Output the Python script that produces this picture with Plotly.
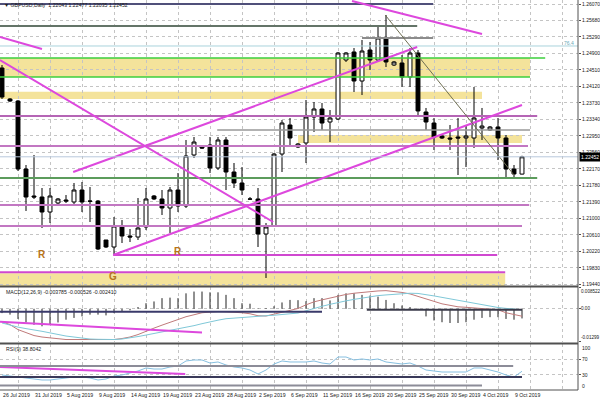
import plotly.graph_objects as go

# ---------------- data ----------------
tick_labels = ["26 Jul 2019", "31 Jul 2019", "5 Aug 2019", "9 Aug 2019", "14 Aug 2019",
               "19 Aug 2019", "23 Aug 2019", "28 Aug 2019", "2 Sep 2019", "6 Sep 2019",
               "11 Sep 2019", "16 Sep 2019", "20 Sep 2019", "25 Sep 2019", "30 Sep 2019",
               "4 Oct 2019", "9 Oct 2019"]
tick_bars = [0, 4, 8, 12, 16, 20, 24, 28, 32, 36, 40, 44, 48, 52, 56, 60, 64]

opens = [1.24555, 1.23821, 1.23773, 1.22163, 1.21524, 1.21500, 1.21145, 1.21358, 1.21429, 1.21382,
         1.21666, 1.21405, 1.21405, 1.20482, 1.20316, 1.20813, 1.20577, 1.20553, 1.20790, 1.21524,
         1.21453, 1.21240, 1.21666, 1.21287, 1.22495, 1.22684, 1.22731, 1.22187, 1.22850, 1.22092,
         1.21832, 1.21453, 1.21453, 1.20624, 1.20813, 1.22518, 1.23205, 1.22684, 1.22779, 1.23394,
         1.23584, 1.23276, 1.23347, 1.24744, 1.24934, 1.24247, 1.24981, 1.24744, 1.25265, 1.24626,
         1.24673, 1.24342, 1.24910, 1.23513, 1.23252, 1.22945, 1.22897, 1.22921, 1.22897, 1.22897,
         1.23134, 1.23087, 1.23158, 1.22897, 1.22163, 1.22043]
highs = [1.24626, 1.23844, 1.23797, 1.22258, 1.22495, 1.21713, 1.21713, 1.21476, 1.21547, 1.21832,
         1.21855, 1.21737, 1.21429, 1.20482, 1.21026, 1.20955, 1.20742, 1.21476, 1.21713, 1.21547,
         1.21666, 1.21737, 1.22068, 1.22850, 1.22921, 1.22708, 1.22921, 1.22921, 1.22921, 1.22305,
         1.22210, 1.21500, 1.21713, 1.20884, 1.22542, 1.23323, 1.23371, 1.22779, 1.23797, 1.23750,
         1.23726, 1.23560, 1.24934, 1.24934, 1.25028, 1.25218, 1.25170, 1.25526, 1.25810, 1.24721,
         1.24863, 1.25028, 1.24981, 1.23608, 1.23371, 1.22968, 1.23205, 1.23371, 1.23205, 1.24105,
         1.23608, 1.23181, 1.23371, 1.22968, 1.22258, 1.22477]
lows = [1.23821, 1.23750, 1.22116, 1.21169, 1.21453, 1.20766, 1.20884, 1.21334, 1.21358, 1.21311,
        1.21145, 1.20908, 1.20245, 1.20292, 1.20127, 1.20411, 1.20434, 1.20482, 1.20719, 1.21429,
        1.21074, 1.20648, 1.21145, 1.21240, 1.22424, 1.22637, 1.22068, 1.22139, 1.21666, 1.21713,
        1.21547, 1.21429, 1.20316, 1.19582, 1.20790, 1.22092, 1.22731, 1.22660, 1.22305, 1.23039,
        1.23087, 1.22802, 1.23323, 1.24697, 1.23986, 1.23915, 1.24507, 1.24697, 1.24578, 1.24602,
        1.24105, 1.24105, 1.23442, 1.23087, 1.22613, 1.22873, 1.22613, 1.22021, 1.22210, 1.22660,
        1.22850, 1.23063, 1.22376, 1.21950, 1.21950, 1.22035]
closes = [1.23868, 1.23773, 1.22163, 1.21500, 1.21500, 1.21145, 1.21524, 1.21453, 1.21405, 1.21666,
          1.21382, 1.21400, 1.20269, 1.20316, 1.20813, 1.20577, 1.20553, 1.20766, 1.21453, 1.21453,
          1.21240, 1.21666, 1.21287, 1.22471, 1.22802, 1.22660, 1.22187, 1.22850, 1.22092, 1.21832,
          1.21666, 1.21450, 1.20624, 1.20790, 1.22518, 1.23252, 1.22897, 1.22755, 1.23394, 1.23584,
          1.23252, 1.23371, 1.24910, 1.24910, 1.24247, 1.24957, 1.24744, 1.25265, 1.24697, 1.24697,
          1.24342, 1.24910, 1.23537, 1.23276, 1.22921, 1.22897, 1.22873, 1.22897, 1.22945, 1.23371,
          1.23181, 1.23158, 1.22897, 1.22163, 1.22045, 1.22452]

macd_hist = [-0.0017, -0.0023, -0.0040, -0.0054, -0.0063, -0.0069, -0.0060, -0.0054, -0.0043, -0.0036,
             -0.0030, -0.0023, -0.0023, -0.0026, -0.0017, -0.0010, -0.0006, 0.0007, 0.0022, 0.0029,
             0.0042, 0.0044, 0.0042, 0.0061, 0.0068, 0.0068, 0.0065, 0.0065, 0.0055, 0.0042,
             0.0022, 0.0020, 0.0002, 0.0003, 0.0010, 0.0025, 0.0035, 0.0034, 0.0030, 0.0042,
             0.0042, 0.0033, 0.0055, 0.0061, 0.0061, 0.0055, 0.0052, 0.0048, 0.0035, 0.0022,
             0.0013, 0.0007, 0.0001, -0.0030, -0.0046, -0.0053, -0.0056, -0.0056, -0.0053, -0.0043,
             -0.0036, -0.0033, -0.0033, -0.0040, -0.0043, -0.0038]
macd_main = [-0.00508, -0.00626, -0.00821, -0.00938, -0.01056, -0.01114, -0.01146, -0.01173, -0.01212, -0.01212,
             -0.01212, -0.01212, -0.01212, -0.01212, -0.01212, -0.01173, -0.01114, -0.01017, -0.00880, -0.00762,
             -0.00645, -0.00528, -0.00411, -0.00313, -0.00235, -0.00156, -0.00129, -0.00106, -0.00117, -0.00129,
             -0.00156, -0.00196, -0.00274, -0.00285, -0.00207, -0.00137, -0.00066, 0.00012, 0.00156, 0.00274,
             0.00352, 0.00430, 0.00508, 0.00567, 0.00614, 0.00653, 0.00684, 0.00704, 0.00716, 0.00684,
             0.00645, 0.00587, 0.00489, 0.00371, 0.00274, 0.00196, 0.00137, 0.00078, 0.00059, 0.00039,
             0.00027, 0.00000, -0.00039, -0.00156, -0.00235, -0.00293]
macd_signal = [-0.00559, -0.00645, -0.00723, -0.00782, -0.00821, -0.00888, -0.00950, -0.01017, -0.01075, -0.01114,
               -0.01161, -0.01193, -0.01204, -0.01212, -0.01212, -0.01193, -0.01153, -0.01095, -0.01036, -0.00978,
               -0.00919, -0.00860, -0.00802, -0.00723, -0.00665, -0.00587, -0.00508, -0.00450, -0.00391, -0.00364,
               -0.00332, -0.00305, -0.00289, -0.00274, -0.00254, -0.00235, -0.00196, -0.00168, -0.00078, 0.00020,
               0.00098, 0.00176, 0.00254, 0.00313, 0.00371, 0.00430, 0.00477, 0.00520, 0.00547, 0.00575,
               0.00598, 0.00614, 0.00606, 0.00567, 0.00508, 0.00450, 0.00391, 0.00332, 0.00274, 0.00215,
               0.00156, 0.00109, 0.00051, 0.00016, -0.00012, -0.00039]
rsi = [28.9, 26.3, 23.7, 21.1, 18.4, 15.8, 15.8, 18.4, 21.1, 23.7,
       23.7, 21.1, 15.8, 18.4, 26.3, 28.9, 34.2, 39.5, 47.4, 44.7,
       44.7, 50.0, 52.6, 65.8, 68.4, 68.4, 60.5, 63.2, 55.3, 50.0,
       47.4, 42.1, 31.6, 42.1, 57.9, 65.8, 63.2, 63.2, 63.2, 65.8,
       60.5, 57.9, 76.3, 76.3, 68.4, 71.1, 68.4, 71.1, 63.2, 60.5,
       57.9, 60.5, 52.6, 42.1, 39.5, 36.8, 36.8, 36.8, 36.8, 47.4,
       47.4, 42.1, 36.8, 28.9, 23.7, 38.8042]

price_ticks = [1.19440, 1.19830, 1.20220, 1.20610, 1.21000, 1.21390, 1.21780, 1.22170, 1.22560,
               1.22950, 1.23340, 1.23730, 1.24120, 1.24510, 1.24900, 1.25290, 1.25680, 1.26070]
macd_ticks = [0.008522, 0.0, -0.01299]
macd_tick_text = ["0.008522", "0.00", "-0.01299"]
rsi_ticks = [100, 70, 30, 0]

main_title = "GBPUSD,Daily  1.22043 1.22477 1.22035 1.22452"
macd_title = "MACD(12,26,9) -0.003785 -0.000526 -0.002410"
rsi_title = "RSI(9) 38.8042"

# chart objects drawn on the MT4 chart (bar index / price)
hline_price = [1.26070, 1.25549, 1.25265, 1.25076, 1.24792, 1.24342, 1.23418, 1.23087,
               1.22708, 1.21950, 1.21311, 1.20813, 1.20127, 1.19719]
hline_from = [-0.25, -0.25, 45.0, -0.25, -0.25, -0.25, -0.25, 26.9, -0.25, -0.25, -0.25, -0.25, 13.9, -0.25]
hline_to = [53.9, 51.9, 53.9, 72.0, 67.9, 66.0, 66.9, 66.0, 65.75, 66.9, 65.9, 65.0, 61.9, 62.9]
hline_style = [("#50507a", 2), ("#647468", 2), ("#8c8c8c", 2), ("#a9d3dd", 1), ("#3ccf3c", 1.5),
               ("#3ccf3c", 1.5), ("#b565b5", 2), ("#999999", 1.5), ("#c277c2", 2), ("#5c9c5c", 2),
               ("#c277c2", 2), ("#c277c2", 2), ("#d048d0", 2), ("#d048d0", 2)]

band_lo = [1.24342, 1.23821, 1.22779, 1.19393]
band_hi = [1.24792, 1.23990, 1.22968, 1.19694]
band_from = [-0.25, -0.25, 37.0, -0.25]
band_to = [66.0, 60.0, 65.0, 62.9]

diag_x0 = [43.75, -0.25, -0.25, 8.9, 13.9, 47.9]
diag_y0 = [1.26141, 1.25289, 1.24744, 1.22092, 1.20127, 1.25810]
diag_x1 = [60.0, 5.0, 33.9, 51.9, 65.0, 64.0]
diag_y1 = [1.25360, 1.25005, 1.20908, 1.25052, 1.23679, 1.22021]
diag_color = ["#dd48dd", "#dd48dd", "#dd48dd", "#dd48dd", "#dd48dd", "#6e6e52"]

macd_line_x = [-0.25, 25.0]
macd_line_y = [-0.00508, -0.00938]
rsi_line_x = [-0.25, 22.9]
rsi_line_y = [50.0, 31.6]

labels_text = ["R", "R", "G"]
labels_x = [5.0, 22.0, 13.9]
labels_y = [1.20150, 1.20198, 1.19606]

# ---------------- geometry ----------------
W, H = 600, 400
PR = 578  # right edge of plotting area in px
xr = [-0.25, 72.0]
dom_x = [0, PR / W]
fnt = "Liberation Sans, Arial, sans-serif"
small = dict(size=5.2, color="#202020", family=fnt)


def py(px):
    return 1 - px / H


fig = go.Figure()

fig.add_trace(go.Candlestick(
    x=list(range(len(opens))), open=opens, high=highs, low=lows, close=closes,
    increasing=dict(fillcolor="white", line=dict(color="black", width=1)),
    decreasing=dict(fillcolor="black", line=dict(color="black", width=1)),
    whiskerwidth=0, xaxis="x", yaxis="y", hoverinfo="skip", showlegend=False))

idx = list(range(len(macd_hist)))
hx, hy = [], []
for i, v in zip(idx, macd_hist):
    hx += [i, i, None]
    hy += [0, v, None]
fig.add_trace(go.Scatter(x=hx, y=hy, mode="lines", line=dict(color="#202020", width=1),
                         xaxis="x2", yaxis="y2", hoverinfo="skip", showlegend=False))
fig.add_trace(go.Scatter(x=idx, y=macd_main, mode="lines", line=dict(color="#c07a7a", width=1),
                         xaxis="x2", yaxis="y2", hoverinfo="skip", showlegend=False))
fig.add_trace(go.Scatter(x=idx, y=macd_signal, mode="lines", line=dict(color="#7fc8d8", width=1),
                         xaxis="x2", yaxis="y2", hoverinfo="skip", showlegend=False))
fig.add_trace(go.Scatter(x=macd_line_x, y=macd_line_y, mode="lines", line=dict(color="#dd48dd", width=2),
                         xaxis="x2", yaxis="y2", hoverinfo="skip", showlegend=False))

fig.add_trace(go.Scatter(x=list(range(len(rsi))), y=rsi, mode="lines", line=dict(color="#86bfe0", width=1),
                         xaxis="x3", yaxis="y3", hoverinfo="skip", showlegend=False))
fig.add_trace(go.Scatter(x=rsi_line_x, y=rsi_line_y, mode="lines", line=dict(color="#dd48dd", width=2),
                         xaxis="x3", yaxis="y3", hoverinfo="skip", showlegend=False))

shapes = []
for lo, hi, a, b in zip(band_lo, band_hi, band_from, band_to):
    shapes.append(dict(type="rect", xref="x", yref="y", x0=a, x1=b, y0=lo, y1=hi,
                       fillcolor="#f4e39b", line=dict(width=0), layer="below"))
for p, a, b, (c, w) in zip(hline_price, hline_from, hline_to, hline_style):
    shapes.append(dict(type="line", xref="x", yref="y", x0=a, x1=b, y0=p, y1=p,
                       line=dict(color=c, width=w)))
for x0, y0, x1, y1, c in zip(diag_x0, diag_y0, diag_x1, diag_y1, diag_color):
    shapes.append(dict(type="line", xref="x", yref="y", x0=x0, x1=x1, y0=y0, y1=y1,
                       line=dict(color=c, width=2 if c != "#6e6e52" else 1)))
shapes.append(dict(type="line", xref="x", yref="y", x0=xr[0], x1=xr[1], y0=closes[-1], y1=closes[-1],
                   line=dict(color="#b8c8dc", width=1)))
shapes.append(dict(type="line", xref="x2", yref="y2", x0=-0.25, x1=40, y0=-0.0012, y1=-0.0012,
                   line=dict(color="#3a3a6a", width=2)))
shapes.append(dict(type="line", xref="x2", yref="y2", x0=45.6, x1=65, y0=-0.0004, y1=-0.0004,
                   line=dict(color="#3a3a4a", width=2)))
shapes.append(dict(type="line", xref="x3", yref="y3", x0=-0.25, x1=63.9, y0=52.6, y1=52.6,
                   line=dict(color="#8c8c98", width=2)))
shapes.append(dict(type="line", xref="x3", yref="y3", x0=-0.25, x1=65, y0=23.7, y1=23.7,
                   line=dict(color="#3a3a5a", width=2)))
shapes.append(dict(type="line", xref="x3", yref="y3", x0=-0.25, x1=60, y0=1.0, y1=1.0,
                   line=dict(color="#8c8c98", width=2)))
for ypx in [286.5, 343.5, 390]:
    shapes.append(dict(type="line", xref="paper", yref="paper", x0=0, x1=PR / W, y0=py(ypx), y1=py(ypx),
                       line=dict(color="#505050", width=2 if ypx < 390 else 1)))
shapes.append(dict(type="line", xref="paper", yref="paper", x0=PR / W, x1=PR / W, y0=py(390), y1=1,
                   line=dict(color="#505050", width=1)))

annotations = []
lab_x = (PR + 2) / W
for t, b in zip(tick_labels, tick_bars):
    annotations.append(dict(x=b, y=py(395), xref="x3", yref="paper", text=t, showarrow=False,
                            xanchor="left", yanchor="middle", xshift=-1, font=small))
for v in price_ticks:
    annotations.append(dict(x=lab_x, y=v, xref="paper", yref="y", text="%.5f" % v, showarrow=False,
                            xanchor="left", yanchor="middle", font=dict(small, size=5)))
for v, t, anc in zip(macd_ticks, macd_tick_text, ["top", "middle", "bottom"]):
    annotations.append(dict(x=lab_x - 0.002, y=v, xref="paper", yref="y2", text=t, showarrow=False,
                            xanchor="left", yanchor=anc, font=dict(small, size=4.6)))
for v in rsi_ticks:
    annotations.append(dict(x=lab_x, y=v, xref="paper", yref="y3", text=str(v), showarrow=False,
                            xanchor="left", yanchor="middle", font=dict(small, size=5)))
for t, xv, yv in zip(labels_text, labels_x, labels_y):
    annotations.append(dict(x=xv, y=yv, xref="x", yref="y", text="<b>" + t + "</b>", showarrow=False,
                            font=dict(size=10, color="#b8741a", family=fnt)))
annotations.append(dict(x=71.75, y=1.25147, xref="x", yref="y", text="76.4", showarrow=False,
                        xanchor="right", font=dict(size=5, color="#6aa8b8", family=fnt)))
annotations.append(dict(x=lab_x - 0.002, y=closes[-1], xref="paper", yref="y", text="%.5f" % closes[-1],
                        showarrow=False, xanchor="left", bgcolor="black", borderpad=1,
                        font=dict(size=5, color="white", family=fnt)))
annotations.append(dict(x=0.004, y=py(5), xref="paper", yref="paper", text="\u25bc " + main_title,
                        showarrow=False, xanchor="left", yanchor="middle", font=small))
annotations.append(dict(x=0.006, y=py(292), xref="paper", yref="paper", text=macd_title,
                        showarrow=False, xanchor="left", yanchor="middle", font=small))
annotations.append(dict(x=0.006, y=py(349), xref="paper", yref="paper", text=rsi_title,
                        showarrow=False, xanchor="left", yanchor="middle", font=small))

grid = dict(showgrid=True, gridcolor="#c4c4c4", griddash="3px,3px", gridwidth=1)
xgrid_vals = list(range(2, 72, 4))


def xax(anchor):
    return dict(domain=dom_x, range=xr, anchor=anchor, tickmode="array", tickvals=xgrid_vals,
                showticklabels=False, ticks="", zeroline=False, showline=False,
                rangeslider=dict(visible=False), fixedrange=True, **grid)


def yax(dom, rng, anchor, vals):
    return dict(domain=dom, range=rng, side="right", anchor=anchor, tickmode="array", tickvals=vals,
                showticklabels=False, ticks="outside", ticklen=2, tickcolor="#505050",
                zeroline=False, automargin=False, fixedrange=True, **grid)


fig.update_layout(
    width=W, height=H, margin=dict(l=0, r=0, t=0, b=0, pad=0),
    paper_bgcolor="white", plot_bgcolor="white", showlegend=False,
    xaxis=xax("y"), xaxis2=xax("y2"), xaxis3=xax("y3"),
    yaxis=yax([py(287), 1], [1.19369, 1.26165], "x", price_ticks),
    yaxis2=yax([py(342), py(287)], [-0.0131, 0.0086], "x2", macd_ticks),
    yaxis3=yax([py(389), py(344)], [-7.9, 110.5], "x3", [70, 30]),
    shapes=shapes, annotations=annotations,
)

fig.write_html("out.html", config={"displayModeBar": False},
               post_script="document.body.style.margin='0px';document.body.style.overflow='hidden';")
